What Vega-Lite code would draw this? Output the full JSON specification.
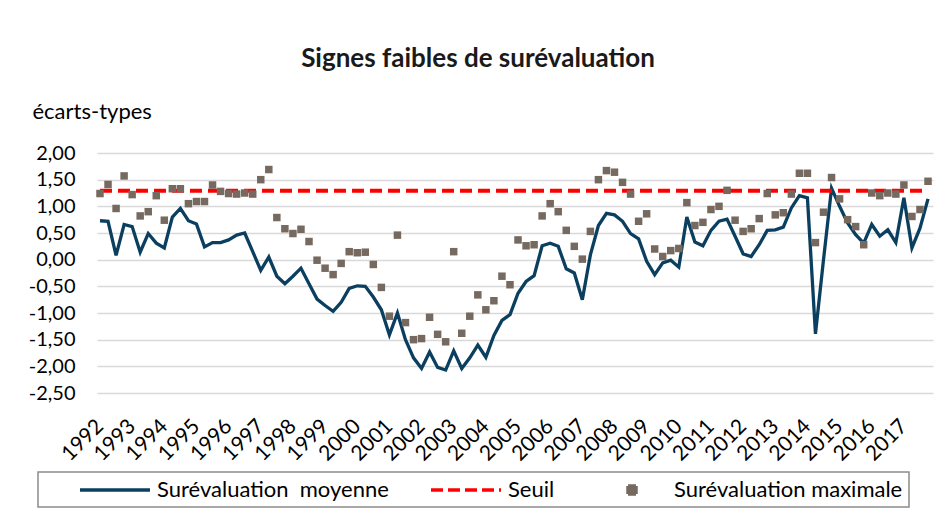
{
  "$schema": "https://vega.github.io/schema/vega-lite/v6.json",
  "width": 836,
  "height": 240,
  "autosize": {"type": "none"},
  "padding": {"left": 97, "top": 153, "right": 14, "bottom": 125},
  "background": "white",
  "title": {
    "text": "Signes faibles de surévaluation",
    "font": "Lato",
    "fontSize": 26,
    "fontWeight": "bold",
    "color": "#1a1a1a",
    "anchor": "middle",
    "frame": "group",
    "dx": -37,
    "offset": 28
  },
  "config": {
    "view": {"stroke": null},
    "font": "Lato"
  },
  "data": {
    "values": [
      {"date": 1992.00, "moy": 0.73, "max": 1.24, "seuil": 1.29},
      {"date": 1992.25, "moy": 0.72, "max": 1.41, "seuil": 1.29},
      {"date": 1992.50, "moy": 0.08, "max": 0.96, "seuil": 1.29},
      {"date": 1992.75, "moy": 0.66, "max": 1.57, "seuil": 1.29},
      {"date": 1993.00, "moy": 0.62, "max": 1.22, "seuil": 1.29},
      {"date": 1993.25, "moy": 0.14, "max": 0.82, "seuil": 1.29},
      {"date": 1993.50, "moy": 0.49, "max": 0.90, "seuil": 1.29},
      {"date": 1993.75, "moy": 0.31, "max": 1.20, "seuil": 1.29},
      {"date": 1994.00, "moy": 0.22, "max": 0.74, "seuil": 1.29},
      {"date": 1994.25, "moy": 0.80, "max": 1.33, "seuil": 1.29},
      {"date": 1994.50, "moy": 0.96, "max": 1.33, "seuil": 1.29},
      {"date": 1994.75, "moy": 0.73, "max": 1.05, "seuil": 1.29},
      {"date": 1995.00, "moy": 0.67, "max": 1.09, "seuil": 1.29},
      {"date": 1995.25, "moy": 0.24, "max": 1.09, "seuil": 1.29},
      {"date": 1995.50, "moy": 0.32, "max": 1.40, "seuil": 1.29},
      {"date": 1995.75, "moy": 0.32, "max": 1.28, "seuil": 1.29},
      {"date": 1996.00, "moy": 0.37, "max": 1.24, "seuil": 1.29},
      {"date": 1996.25, "moy": 0.46, "max": 1.23, "seuil": 1.29},
      {"date": 1996.50, "moy": 0.50, "max": 1.25, "seuil": 1.29},
      {"date": 1996.75, "moy": 0.15, "max": 1.23, "seuil": 1.29},
      {"date": 1997.00, "moy": -0.20, "max": 1.50, "seuil": 1.29},
      {"date": 1997.25, "moy": 0.05, "max": 1.69, "seuil": 1.29},
      {"date": 1997.50, "moy": -0.31, "max": 0.79, "seuil": 1.29},
      {"date": 1997.75, "moy": -0.45, "max": 0.58, "seuil": 1.29},
      {"date": 1998.00, "moy": -0.31, "max": 0.49, "seuil": 1.29},
      {"date": 1998.25, "moy": -0.16, "max": 0.57, "seuil": 1.29},
      {"date": 1998.50, "moy": -0.45, "max": 0.34, "seuil": 1.29},
      {"date": 1998.75, "moy": -0.74, "max": -0.01, "seuil": 1.29},
      {"date": 1999.00, "moy": -0.86, "max": -0.16, "seuil": 1.29},
      {"date": 1999.25, "moy": -0.97, "max": -0.28, "seuil": 1.29},
      {"date": 1999.50, "moy": -0.80, "max": -0.07, "seuil": 1.29},
      {"date": 1999.75, "moy": -0.54, "max": 0.15, "seuil": 1.29},
      {"date": 2000.00, "moy": -0.49, "max": 0.13, "seuil": 1.29},
      {"date": 2000.25, "moy": -0.50, "max": 0.14, "seuil": 1.29},
      {"date": 2000.50, "moy": -0.70, "max": -0.09, "seuil": 1.29},
      {"date": 2000.75, "moy": -0.94, "max": -0.52, "seuil": 1.29},
      {"date": 2001.00, "moy": -1.41, "max": -1.06, "seuil": 1.29},
      {"date": 2001.25, "moy": -1.00, "max": 0.46, "seuil": 1.29},
      {"date": 2001.50, "moy": -1.50, "max": -1.18, "seuil": 1.29},
      {"date": 2001.75, "moy": -1.84, "max": -1.50, "seuil": 1.29},
      {"date": 2002.00, "moy": -2.04, "max": -1.48, "seuil": 1.29},
      {"date": 2002.25, "moy": -1.73, "max": -1.08, "seuil": 1.29},
      {"date": 2002.50, "moy": -2.02, "max": -1.40, "seuil": 1.29},
      {"date": 2002.75, "moy": -2.07, "max": -1.54, "seuil": 1.29},
      {"date": 2003.00, "moy": -1.71, "max": 0.15, "seuil": 1.29},
      {"date": 2003.25, "moy": -2.04, "max": -1.38, "seuil": 1.29},
      {"date": 2003.50, "moy": -1.84, "max": -1.06, "seuil": 1.29},
      {"date": 2003.75, "moy": -1.60, "max": -0.66, "seuil": 1.29},
      {"date": 2004.00, "moy": -1.83, "max": -0.94, "seuil": 1.29},
      {"date": 2004.25, "moy": -1.42, "max": -0.77, "seuil": 1.29},
      {"date": 2004.50, "moy": -1.14, "max": -0.31, "seuil": 1.29},
      {"date": 2004.75, "moy": -1.03, "max": -0.47, "seuil": 1.29},
      {"date": 2005.00, "moy": -0.63, "max": 0.37, "seuil": 1.29},
      {"date": 2005.25, "moy": -0.41, "max": 0.26, "seuil": 1.29},
      {"date": 2005.50, "moy": -0.30, "max": 0.28, "seuil": 1.29},
      {"date": 2005.75, "moy": 0.26, "max": 0.82, "seuil": 1.29},
      {"date": 2006.00, "moy": 0.31, "max": 1.05, "seuil": 1.29},
      {"date": 2006.25, "moy": 0.25, "max": 0.90, "seuil": 1.29},
      {"date": 2006.50, "moy": -0.17, "max": 0.55, "seuil": 1.29},
      {"date": 2006.75, "moy": -0.25, "max": 0.25, "seuil": 1.29},
      {"date": 2007.00, "moy": -0.75, "max": 0.01, "seuil": 1.29},
      {"date": 2007.25, "moy": 0.09, "max": 0.53, "seuil": 1.29},
      {"date": 2007.50, "moy": 0.64, "max": 1.50, "seuil": 1.29},
      {"date": 2007.75, "moy": 0.87, "max": 1.67, "seuil": 1.29},
      {"date": 2008.00, "moy": 0.84, "max": 1.64, "seuil": 1.29},
      {"date": 2008.25, "moy": 0.72, "max": 1.45, "seuil": 1.29},
      {"date": 2008.50, "moy": 0.49, "max": 1.23, "seuil": 1.29},
      {"date": 2008.75, "moy": 0.39, "max": 0.72, "seuil": 1.29},
      {"date": 2009.00, "moy": -0.03, "max": 0.86, "seuil": 1.29},
      {"date": 2009.25, "moy": -0.28, "max": 0.20, "seuil": 1.29},
      {"date": 2009.50, "moy": -0.06, "max": 0.06, "seuil": 1.29},
      {"date": 2009.75, "moy": -0.01, "max": 0.17, "seuil": 1.29},
      {"date": 2010.00, "moy": -0.14, "max": 0.21, "seuil": 1.29},
      {"date": 2010.25, "moy": 0.80, "max": 1.07, "seuil": 1.29},
      {"date": 2010.50, "moy": 0.33, "max": 0.64, "seuil": 1.29},
      {"date": 2010.75, "moy": 0.26, "max": 0.70, "seuil": 1.29},
      {"date": 2011.00, "moy": 0.55, "max": 0.94, "seuil": 1.29},
      {"date": 2011.25, "moy": 0.72, "max": 1.00, "seuil": 1.29},
      {"date": 2011.50, "moy": 0.76, "max": 1.30, "seuil": 1.29},
      {"date": 2011.75, "moy": 0.44, "max": 0.74, "seuil": 1.29},
      {"date": 2012.00, "moy": 0.11, "max": 0.53, "seuil": 1.29},
      {"date": 2012.25, "moy": 0.06, "max": 0.58, "seuil": 1.29},
      {"date": 2012.50, "moy": 0.28, "max": 0.77, "seuil": 1.29},
      {"date": 2012.75, "moy": 0.55, "max": 1.24, "seuil": 1.29},
      {"date": 2013.00, "moy": 0.56, "max": 0.84, "seuil": 1.29},
      {"date": 2013.25, "moy": 0.61, "max": 0.88, "seuil": 1.29},
      {"date": 2013.50, "moy": 0.97, "max": 1.23, "seuil": 1.29},
      {"date": 2013.75, "moy": 1.20, "max": 1.62, "seuil": 1.29},
      {"date": 2014.00, "moy": 1.16, "max": 1.62, "seuil": 1.29},
      {"date": 2014.25, "moy": -1.39, "max": 0.32, "seuil": 1.29},
      {"date": 2014.50, "moy": 0.00, "max": 0.89, "seuil": 1.29},
      {"date": 2014.75, "moy": 1.34, "max": 1.54, "seuil": 1.29},
      {"date": 2015.00, "moy": 1.00, "max": 1.14, "seuil": 1.29},
      {"date": 2015.25, "moy": 0.69, "max": 0.75, "seuil": 1.29},
      {"date": 2015.50, "moy": 0.47, "max": 0.62, "seuil": 1.29},
      {"date": 2015.75, "moy": 0.31, "max": 0.28, "seuil": 1.29},
      {"date": 2016.00, "moy": 0.66, "max": 1.25, "seuil": 1.29},
      {"date": 2016.25, "moy": 0.44, "max": 1.20, "seuil": 1.29},
      {"date": 2016.50, "moy": 0.56, "max": 1.25, "seuil": 1.29},
      {"date": 2016.75, "moy": 0.32, "max": 1.23, "seuil": 1.29},
      {"date": 2017.00, "moy": 1.16, "max": 1.40, "seuil": 1.29},
      {"date": 2017.25, "moy": 0.22, "max": 0.81, "seuil": 1.29},
      {"date": 2017.50, "moy": 0.59, "max": 0.94, "seuil": 1.29},
      {"date": 2017.75, "moy": 1.14, "max": 1.47, "seuil": 1.29}
    ]
  },
  "encoding": {
    "x": {
      "field": "date",
      "type": "quantitative",
      "scale": {"domain": [1991.907, 2017.905], "nice": false, "zero": false},
      "axis": {
        "title": null,
        "values": [1992, 1993, 1994, 1995, 1996, 1997, 1998, 1999, 2000, 2001, 2002, 2003, 2004, 2005, 2006, 2007, 2008, 2009, 2010, 2011, 2012, 2013, 2014, 2015, 2016, 2017],
        "tickCount": 40,
        "format": "d",
        "labelAngle": -45,
        "labelFontSize": 21,
        "labelFont": "Lato",
        "labelColor": "black",
        "labelPadding": 22,
        "labelOffset": -8,
        "labelOverlap": false,
        "labelFlush": false,
        "ticks": false,
        "domain": false,
        "grid": false
      }
    }
  },
  "layer": [
    {
      "mark": {"type": "line", "strokeWidth": 3.3, "interpolate": "linear"},
      "encoding": {
        "y": {
          "field": "moy",
          "type": "quantitative",
          "scale": {"domain": [-2.5, 2], "nice": false, "zero": false},
          "axis": {
            "title": "écarts-types",
            "titleAngle": 0,
            "titleX": -65,
            "titleY": -35,
            "titleAlign": "left",
            "titleBaseline": "alphabetic",
            "titleFont": "Lato",
            "titleFontSize": 22,
            "titleFontWeight": "normal",
            "titleColor": "black",
            "values": [-2.5, -2, -1.5, -1, -0.5, 0, 0.5, 1, 1.5, 2],
            "tickCount": 20,
            "labelExpr": "replace(replace(format(datum.value, '.2f'), '.', ','), '\u2212', '-')",
            "labelFont": "Lato",
            "labelFontSize": 20,
            "labelColor": "black",
            "labelPadding": 22,
            "labelOverlap": false,
            "labelFlush": false,
            "ticks": false,
            "domain": false,
            "grid": true,
            "gridColor": "#d9d9d9",
            "gridWidth": 1.3
          }
        },
        "color": {
          "datum": "Surévaluation\u00a0 moyenne",
          "type": "nominal",
          "scale": {
            "domain": ["Surévaluation\u00a0 moyenne", "Seuil", "Surévaluation maximale"],
            "range": ["#0b3f60", "#ff0000", "#76695f"]
          },
          "legend": {
            "orient": "none",
            "legendX": -59,
            "legendY": 319,
            "direction": "horizontal",
            "title": null,
            "strokeColor": "#8c8c8c",
            "padding": 6,
            "labelFont": "Lato",
            "labelFontSize": 22,
            "labelColor": "black",
            "labelLimit": 400,
            "labelOffset": 30,
            "symbolOffset": 59,
            "columnPadding": 6,
            "symbolSize": 400,
            "symbolStrokeWidth": 3.5,
            "encode": {
              "legend": {
                "update": {
                  "stroke": {"value": "#8c8c8c"},
                  "strokeWidth": {"value": 1.5}
                }
              },
              "symbols": {
                "update": {
                  "shape": {"signal": "datum.value === 'Surévaluation maximale' ? 'M-0.4,-0.4H0.4V0.4H-0.4Z' : 'M-3.5,0H3.5'"},
                  "strokeDash": {"signal": "datum.value === 'Seuil' ? [12, 5] : [1, 0]"},
                  "stroke": {"signal": "datum.value === 'Surévaluation maximale' ? 'transparent' : (datum.value === 'Seuil' ? '#ff0000' : '#0b3f60')"},
                  "fill": {"signal": "datum.value === 'Surévaluation maximale' ? '#76695f' : 'transparent'"},
                  "opacity": {"value": 1}
                }
              }
            }
          }
        }
      }
    },
    {
      "mark": {"type": "line", "strokeWidth": 4, "strokeDash": [12, 6]},
      "encoding": {
        "y": {"field": "seuil", "type": "quantitative"},
        "color": {"datum": "Seuil", "type": "nominal"}
      }
    },
    {
      "mark": {"type": "point", "shape": "square", "filled": true, "size": 56, "opacity": 1},
      "encoding": {
        "y": {"field": "max", "type": "quantitative"},
        "color": {"datum": "Surévaluation maximale", "type": "nominal"}
      }
    }
  ]
}
